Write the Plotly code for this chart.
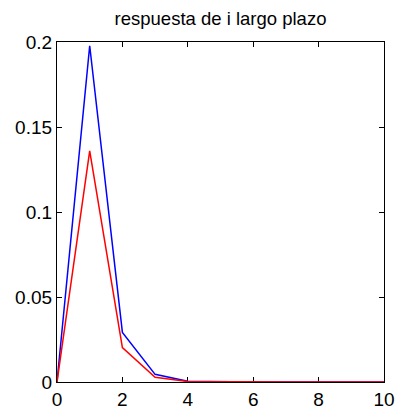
import plotly.graph_objects as go

x_vals = [0, 1, 2, 3, 4, 5, 6, 7, 8, 9, 10]
blue_vals = [0.0, 0.1978, 0.0292, 0.0045, 0.0004, 0.0001, 0.0, 0.0, 0.0, 0.0, 0.0]
red_vals = [0.0, 0.1359, 0.0202, 0.0028, 0.0003, 0.0001, 0.0, 0.0, 0.0, 0.0, 0.0]
x_ticks = [0, 2, 4, 6, 8, 10]
y_ticks = [0, 0.05, 0.1, 0.15, 0.2]
y_tick_labels = ["0", "0.05", "0.1", "0.15", "0.2"]
title_text = "respuesta de i largo plazo"

font_family = "Liberation Sans, Arial, sans-serif"

fig = go.Figure()
fig.add_trace(go.Scatter(x=x_vals, y=blue_vals, mode="lines", cliponaxis=False,
                         line=dict(color="rgb(0,0,255)", width=1.5), showlegend=False))
fig.add_trace(go.Scatter(x=x_vals, y=red_vals, mode="lines", cliponaxis=False,
                         line=dict(color="rgb(255,0,0)", width=1.5), showlegend=False))

axis_common = dict(showgrid=False, zeroline=False, showline=True, mirror="ticks",
                   linecolor="black", linewidth=1.2, ticks="inside", ticklen=5,
                   tickcolor="black", tickwidth=1, automargin=False,
                   layer="below traces",
                   tickfont=dict(family=font_family, size=19, color="black"))

fig.update_xaxes(range=[0, 10], tickvals=x_ticks, ticktext=[str(v) for v in x_ticks],
                 **axis_common)
fig.update_yaxes(range=[0, 0.2], tickvals=y_ticks, ticktext=y_tick_labels,
                 **axis_common)

fig.update_layout(
    width=398, height=412,
    margin=dict(l=57, r=14, t=42, b=30, autoexpand=False),
    paper_bgcolor="white", plot_bgcolor="white",
    title=dict(text=title_text, x=(57 + 384) / 2 / 398, xanchor="center",
               y=1 - 19 / 412, yanchor="middle",
               font=dict(family=font_family, size=18.5, color="black")),
)

fig.write_html("out.html")
